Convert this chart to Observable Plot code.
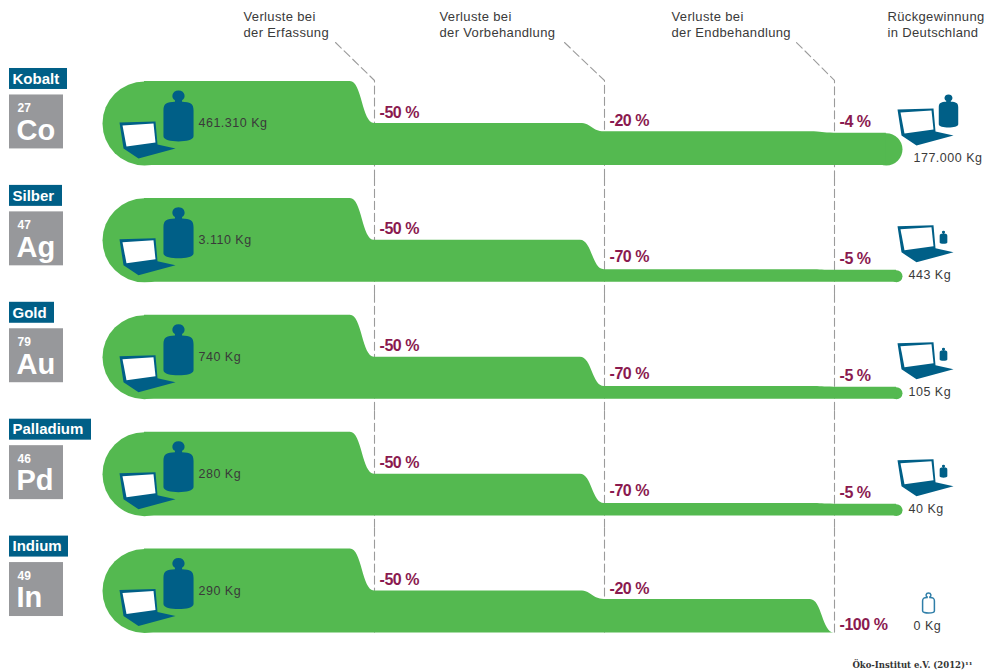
<!DOCTYPE html>
<html lang="de">
<head>
<meta charset="utf-8">
<title>Verluste beim Recycling von Metallen aus Notebooks</title>
<style>
  html, body { margin: 0; padding: 0; background: #fff; }
  svg { display: block; }
  .wide text { letter-spacing: .35px; }
  .kg text { letter-spacing: .5px; }
  .tight text { letter-spacing: -.45px; }
</style>
<script src="https://cdn.jsdelivr.net/npm/d3@7"></script>
<script src="https://cdn.jsdelivr.net/npm/@observablehq/plot@0.6"></script>
</head>
<body>
<div id="chart"></div>
<script>
// Metals, element tiles and masses
const metals = ["Kobalt", "Silber", "Gold", "Palladium", "Indium"];
const symbols = ["Co", "Ag", "Au", "Pd", "In"];
const atomicNumbers = ["27", "47", "79", "46", "49"];
const inputLabels = ["461.310 Kg", "3.110 Kg", "740 Kg", "280 Kg", "290 Kg"];
const recoveredLabels = ["177.000 Kg", "443 Kg", "105 Kg", "40 Kg", "0 Kg"];

// Loss in percent at collection, pre-treatment and end treatment
const lossCollection = [50, 50, 50, 50, 50];
const lossPretreatment = [20, 70, 70, 70, 20];
const lossEndTreatment = [4, 5, 5, 5, 100];

const stageHeaders = ["Verluste bei\nder Erfassung", "Verluste bei\nder Vorbehandlung", "Verluste bei\nder Endbehandlung"];
const recoveryHeader = "Rückgewinnung\nin Deutschland";
const sourceNote = "Öko-Institut e.V. (2012)¹¹";

// Layout: pixels per stage and per percent of input
const xAt = d3.scaleLinear([144, 834], [0, 3]);
const pxPerPercent = 0.84;
const yAt = (px) => px / pxPerPercent;
const dropWidth = 0.105;
const barEnd = 902;

const GREEN = "#54b950", BLUE = "#005f87", GREY = "#97989b", MAROON = "#8a1a4f", INK = "#3a3a3a", DASH = "#9b9b9b";
const SANS = "'Liberation Sans', Arial, sans-serif";

// Remaining share (percent of input) after each stage
const rows = metals.map((metal, i) => {
  const losses = [lossCollection[i], lossPretreatment[i], lossEndTreatment[i]];
  const remaining = [100];
  losses.forEach((l) => remaining.push(remaining[remaining.length - 1] * (1 - l / 100)));
  return {metal, i, losses, remaining};
});

// Outline of the flow band for every metal, with a short S-shaped drop before each stage line
const flow = rows.flatMap(({metal, remaining}) => {
  const pts = [{metal, x: 0, y: 100}];
  for (let s = 1; s <= 3; ++s) {
    pts.push({metal, x: s - dropWidth, y: remaining[s - 1]}, {metal, x: s, y: remaining[s]});
  }
  const last = remaining[3];
  if (last > 0) pts.push({metal, x: xAt(barEnd - (last * pxPerPercent) / 2), y: last});
  return pts;
});

// Rounded ends of the band
const caps = rows.flatMap(({metal, remaining}) => {
  const last = remaining[3];
  const out = [{metal, x: 0, y: 50, r: 100 * pxPerPercent / 2}];
  if (last > 0) out.push({metal, x: xAt(barEnd - (last * pxPerPercent) / 2), y: last / 2, r: (last * pxPerPercent) / 2});
  return out;
});

// Dashed guides at each stage; the first row carries the slanted leader up to the header
const leaderStarts = [xAt(335), xAt(564), xAt(796)];
const guides = rows.flatMap(({metal, i}) =>
  [1, 2, 3].flatMap((s) => {
    const id = `${metal}-${s}`;
    if (i === 0) return [
      {metal, id, x: leaderStarts[s - 1], y: yAt(123)},
      {metal, id, x: s, y: yAt(85)},
      {metal, id, x: s, y: yAt(-12)}
    ];
    return [
      {metal, id, x: s, y: yAt(105)},
      {metal, id, x: s, y: i === 4 ? yAt(-2) : yAt(-12)}
    ];
  })
);

// Percent labels sit just above the band after the drop
const lossLabels = rows.flatMap(({metal, losses, remaining}) =>
  losses.map((l, k) => ({
    metal,
    x: k + 1,
    y: remaining[k + 1] === 0 ? yAt(-3) : remaining[k + 1] + (l === 70 ? yAt(2) : 0),
    text: `-${l} %`
  }))
);

// Pictogram shapes, drawn in units of the dot radius
const weightShape = {
  draw(ctx, size) {
    const k = Math.sqrt(size / Math.PI);
    const P = (x) => x * k;
    ctx.moveTo(P(-.14), P(-.62));
    ctx.bezierCurveTo(P(-.3), P(-.68), P(-.28), P(-1), P(0), P(-1));
    ctx.bezierCurveTo(P(.28), P(-1), P(.3), P(-.68), P(.14), P(-.62));
    ctx.lineTo(P(.14), P(-.56));
    ctx.bezierCurveTo(P(.45), P(-.55), P(.59), P(-.5), P(.59), P(-.22));
    ctx.lineTo(P(.59), P(.8));
    ctx.bezierCurveTo(P(.59), P(.94), P(.3), P(1), P(0), P(1));
    ctx.bezierCurveTo(P(-.3), P(1), P(-.59), P(.94), P(-.59), P(.8));
    ctx.lineTo(P(-.59), P(-.22));
    ctx.bezierCurveTo(P(-.59), P(-.5), P(-.45), P(-.55), P(-.14), P(-.56));
    ctx.closePath();
  }
};
const polygonShape = (points) => ({
  draw(ctx, size) {
    const k = Math.sqrt(size / Math.PI) / 28;
    points.forEach(([x, y], i) => (i ? ctx.lineTo(x * k, y * k) : ctx.moveTo(x * k, y * k)));
    ctx.closePath();
  }
});
const laptopShape = polygonShape([[-28, -18], [8, -19], [10, 4], [28, 8], [-9, 18], [-24, 8]]);
const screenShape = polygonShape([[-25, -15], [6, -17], [8, 2], [-21, 6]]);

// Pictogram placement per row
const laptops = rows.flatMap(({metal, i}) => {
  const out = [{metal, x: xAt(147), y: yAt(25), r: 28}];
  if (i < 4) out.push({metal, x: xAt(925), y: yAt(38), r: 28});
  return out;
});
const weights = rows.flatMap(({metal, i}) => {
  const out = [{metal, x: xAt(178), y: yAt(49.5), r: 25.5}];
  if (i === 0) out.push({metal, x: xAt(948), y: yAt(54.5), r: 16.5});
  else if (i < 4) out.push({metal, x: xAt(943), y: yAt(45), r: 6.5});
  return out;
});
const emptyWeight = [{metal: "Indium", x: xAt(928), y: yAt(30), r: 10}];

// Element tiles and name tags
const tagRight = [67, 62, 54, 91, 68];
const tagRect = rows.map(({metal, i}) => ({metal, x1: xAt(9), x2: xAt(tagRight[i]), y1: yAt(97), y2: yAt(76)}));
const tileRect = rows.map(({metal}) => ({metal, x1: xAt(9), x2: xAt(63), y1: yAt(70.5), y2: yAt(16.5)}));
const tiles = rows.map(({metal, i}) => ({metal, name: metal, no: atomicNumbers[i], sym: symbols[i]}));

const inputs = rows.map(({metal, i}) => ({metal, text: inputLabels[i]}));
const outputs = rows.map(({metal, i}) => ({
  metal,
  text: recoveredLabels[i],
  x: i === 0 || i === 4 ? xAt(913) : xAt(908)
}));

const firstRow = metals[0], lastRow = metals[metals.length - 1];
const headers = stageHeaders.map((text, k) => ({metal: firstRow, text, x: xAt([243, 439, 671][k])}));
headers.push({metal: firstRow, text: recoveryHeader, x: xAt(887)});

const chart = Plot.plot({
  width: 986,
  height: 672,
  marginTop: 60,
  marginBottom: 27.5,
  marginLeft: 0,
  marginRight: 0,
  style: {background: "#fff", fontFamily: SANS},
  x: {domain: [0, 3], range: [144, 834], axis: null},
  y: {domain: [-yAt(12), yAt(105)], axis: null},
  fy: {domain: metals, padding: 0, round: false, axis: null},
  r: {type: "identity"},
  marks: [
    Plot.line(guides, {x: "x", y: "y", z: "id", fy: "metal", stroke: DASH, strokeWidth: 1.1, strokeDasharray: "8,4", curve: "linear"}),
    Plot.dot(caps, {x: "x", y: "y", r: "r", fy: "metal", fill: GREEN}),
    Plot.area(flow, {x1: "x", y1: () => 0, y2: "y", fy: "metal", z: "metal", fill: GREEN, curve: "bump-x"}),

    Plot.dot(laptops, {x: "x", y: "y", r: "r", fy: "metal", symbol: laptopShape, fill: BLUE}),
    Plot.dot(laptops, {x: "x", y: "y", r: "r", fy: "metal", symbol: screenShape, fill: "#fff"}),
    Plot.dot(weights, {x: "x", y: "y", r: "r", fy: "metal", symbol: weightShape, fill: BLUE}),
    Plot.dot(emptyWeight, {x: "x", y: "y", r: "r", fy: "metal", symbol: weightShape, fill: "#fff", stroke: "#2f7ea8", strokeWidth: 1.5}),

    Plot.rect(tagRect, {x1: "x1", x2: "x2", y1: "y1", y2: "y2", fy: "metal", fill: BLUE}),
    Plot.rect(tileRect, {x1: "x1", x2: "x2", y1: "y1", y2: "y2", fy: "metal", fill: GREY}),
    Plot.text(tiles, {x: () => xAt(12), y: () => yAt(86.5), text: "name", fy: "metal", textAnchor: "start", fill: "#fff", fontSize: 15, fontWeight: "bold"}),
    Plot.text(tiles, {x: () => xAt(17), y: () => yAt(57), text: "no", fy: "metal", textAnchor: "start", fill: "#fff", fontSize: 12, fontWeight: "bold"}),
    Plot.text(tiles, {x: () => xAt(16), y: () => yAt(35), text: "sym", fy: "metal", textAnchor: "start", fill: "#fff", fontSize: 29, fontWeight: "bold"}),

    Plot.text(inputs, {x: () => xAt(198), y: () => yAt(42), text: "text", fy: "metal", textAnchor: "start", fill: INK, fontSize: 12.5, className: "kg"}),
    Plot.text(outputs, {x: "x", y: () => yAt(7), text: "text", fy: "metal", textAnchor: "start", fill: INK, fontSize: 12.5, className: "kg"}),
    Plot.text(lossLabels, {x: "x", y: "y", dx: 5, dy: -11, text: "text", fy: "metal", textAnchor: "start", fill: MAROON, fontSize: 16, fontWeight: "bold", className: "tight"}),

    Plot.text(headers, {x: "x", y: () => yAt(142), text: "text", fy: "metal", textAnchor: "start", lineAnchor: "middle", lineHeight: 1.3, fill: INK, fontSize: 13, className: "wide"}),
    Plot.text([{metal: lastRow, text: sourceNote}], {x: () => xAt(972), y: () => yAt(-32), text: "text", fy: "metal", textAnchor: "end", fill: "#333", fontSize: 8.5, fontWeight: "bold", fontFamily: "'DejaVu Serif', serif"})
  ]
});

document.getElementById("chart").append(chart);
</script>
</body>
</html>
